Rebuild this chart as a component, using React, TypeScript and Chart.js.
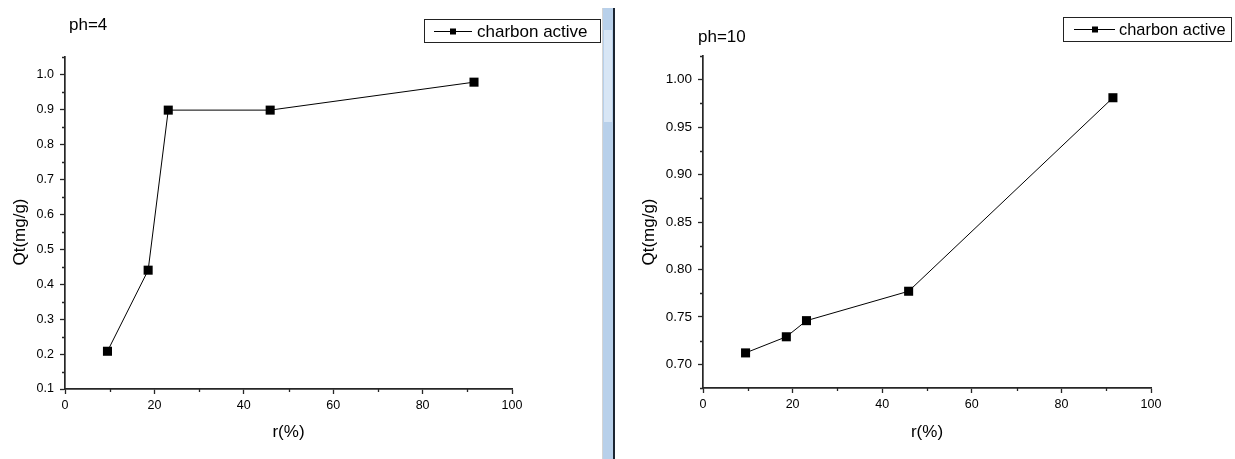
import React, { useEffect, useRef } from 'react';
import { Chart, registerables } from 'chart.js';

Chart.register(...registerables);

// ---------- data ----------
const rPercent = [9.5, 18.6, 23.1, 45.9, 91.5];
const qtPh4 = [0.208, 0.44, 0.898, 0.898, 0.978];
const qtPh10 = [0.712, 0.729, 0.746, 0.777, 0.981];

const xTicks = [0, 20, 40, 60, 80, 100];
const xTickLabels = ['0', '20', '40', '60', '80', '100'];
const xMinorTicks = [10, 30, 50, 70, 90];

const yTicksPh4 = [0.1, 0.2, 0.3, 0.4, 0.5, 0.6, 0.7, 0.8, 0.9, 1.0];
const yTickLabelsPh4 = ['0.1', '0.2', '0.3', '0.4', '0.5', '0.6', '0.7', '0.8', '0.9', '1.0'];
const yMinorPh4 = [0.15, 0.25, 0.35, 0.45, 0.55, 0.65, 0.75, 0.85, 0.95, 1.05];

const yTicksPh10 = [0.7, 0.75, 0.8, 0.85, 0.9, 0.95, 1.0];
const yTickLabelsPh10 = ['0.70', '0.75', '0.80', '0.85', '0.90', '0.95', '1.00'];
const yMinorPh10 = [0.675, 0.725, 0.775, 0.825, 0.875, 0.925, 0.975, 1.025];

const seriesLabel = 'charbon active';
const titlePh4 = 'ph=4';
const titlePh10 = 'ph=10';
const xTitle = 'r(%)';
const yTitle = 'Qt(mg/g)';

// ---------- styles ----------
const FONT = '"Liberation Sans", Arial, Helvetica, sans-serif';
const TEXT = '#000000';
const AXIS = '#262626';

const decorPlugin = {
  id: 'decor',
  afterDraw(chart: any, _args: any, o: any) {
    const ctx = chart.ctx;
    const xs = chart.scales.x;
    const ys = chart.scales.y;
    ctx.save();
    // minor ticks
    ctx.strokeStyle = AXIS;
    ctx.lineWidth = 1.3;
    ctx.beginPath();
    o.xMinor.forEach((v: number) => {
      const px = Math.round(xs.getPixelForValue(v)) + 0.5;
      ctx.moveTo(px, xs.top);
      ctx.lineTo(px, xs.top + 3);
    });
    o.yMinor.forEach((v: number) => {
      const py = Math.round(ys.getPixelForValue(v)) + 0.5;
      ctx.moveTo(ys.right - 3, py);
      ctx.lineTo(ys.right, py);
    });
    ctx.stroke();

    // chart title
    ctx.fillStyle = TEXT;
    ctx.textAlign = 'left';
    ctx.textBaseline = 'alphabetic';
    ctx.font = `${o.titleSize}px ${FONT}`;
    ctx.fillText(o.title, o.titleX, o.titleY);

    // y axis title
    ctx.save();
    ctx.translate(o.yTitleX, o.yTitleY);
    ctx.rotate(-Math.PI / 2);
    ctx.textAlign = 'center';
    ctx.textBaseline = 'middle';
    ctx.font = `17px ${FONT}`;
    ctx.fillText(o.yTitle, 0, 0);
    ctx.restore();

    // legend box
    const L = o.legend;
    ctx.strokeStyle = '#222';
    ctx.lineWidth = 1;
    ctx.strokeRect(L.x + 0.5, L.y + 0.5, L.w, L.h);
    const my = Math.round(L.y + L.h / 2) + 0.5;
    ctx.strokeStyle = '#000';
    ctx.beginPath();
    ctx.moveTo(L.lineX1, my);
    ctx.lineTo(L.lineX2, my);
    ctx.stroke();
    ctx.fillStyle = '#000';
    ctx.fillRect(L.markX - L.mark / 2, my - L.mark / 2, L.mark, L.mark);
    ctx.fillStyle = TEXT;
    ctx.font = `${L.fontSize}px ${FONT}`;
    ctx.fillText(chart.data.datasets[0].label, L.textX, L.textY);
    ctx.restore();
  },
};

function makeConfig(p: any): any {
  return {
    type: 'line',
    data: {
      datasets: [
        {
          label: seriesLabel,
          data: rPercent.map((r, i) => ({ x: r, y: p.values[i] })),
          borderColor: '#000',
          borderWidth: 1,
          pointStyle: 'rect',
          pointRadius: 6.4,
          pointBackgroundColor: '#000',
          pointBorderColor: '#000',
          pointBorderWidth: 0,
          tension: 0,
          fill: false,
        },
      ],
    },
    options: {
      responsive: false,
      animation: false,
      events: [],
      layout: { padding: p.padding },
      plugins: {
        legend: { display: false },
        title: { display: false },
        tooltip: { enabled: false },
        decor: p.decor,
      },
      scales: {
        x: {
          type: 'linear',
          min: 0,
          max: 100,
          afterBuildTicks: (s: any) => {
            s.ticks = xTicks.map((v) => ({ value: v }));
          },
          afterFit: (s: any) => {
            s.height = p.xHeight;
          },
          ticks: {
            autoSkip: false,
            maxRotation: 0,
            padding: 4,
            color: TEXT,
            font: { family: FONT, size: 12.5 },
            callback: (_v: any, i: number) => xTickLabels[i],
          },
          grid: {
            display: true,
            drawOnChartArea: false,
            drawTicks: true,
            tickLength: 5,
            tickColor: AXIS,
            tickWidth: 1.3,
          },
          border: { display: true, color: AXIS, width: 1.7 },
          title: {
            display: true,
            text: xTitle,
            color: TEXT,
            font: { family: FONT, size: 17 },
            padding: { top: 0, bottom: 16 },
          },
        },
        y: {
          type: 'linear',
          min: p.yMin,
          max: p.yMax,
          afterBuildTicks: (s: any) => {
            s.ticks = p.yTicks.map((v: number) => ({ value: v }));
          },
          afterFit: (s: any) => {
            s.width = p.yWidth;
          },
          ticks: {
            autoSkip: false,
            padding: 6,
            color: TEXT,
            font: { family: FONT, size: p.yTickSize },
            callback: (_v: any, i: number) => p.yTickLabels[i],
          },
          grid: {
            display: true,
            drawOnChartArea: false,
            drawTicks: true,
            tickLength: 5,
            tickColor: AXIS,
            tickWidth: 1.3,
          },
          border: { display: true, color: AXIS, width: 1.7 },
          title: { display: false },
        },
      },
    },
    plugins: [decorPlugin],
  };
}

function OriginChart(props: { cfg: any; left: number; width: number }) {
  const ref = useRef<HTMLCanvasElement | null>(null);
  useEffect(() => {
    if (!ref.current) return;
    const chart = new Chart(ref.current, makeConfig(props.cfg));
    return () => chart.destroy();
  }, []);
  return (
    <canvas
      ref={ref}
      width={props.width}
      height={459}
      style={{ position: 'absolute', left: props.left, top: 0, width: props.width, height: 459 }}
    />
  );
}

const leftCfg = {
  values: qtPh4,
  yMin: 0.1,
  yMax: 1.05,
  yTicks: yTicksPh4,
  yTickLabels: yTickLabelsPh4,
  yTickSize: 12.5,
  padding: { left: 0, top: 57, right: 91, bottom: 0 },
  yWidth: 65,
  xHeight: 70,
  decor: {
    xMinor: xMinorTicks,
    yMinor: yMinorPh4,
    title: titlePh4,
    titleSize: 17,
    titleX: 69,
    titleY: 30,
    yTitle: yTitle,
    yTitleX: 20,
    yTitleY: 232,
    legend: {
      x: 424, y: 19, w: 176, h: 23,
      lineX1: 434, lineX2: 472, markX: 453, mark: 6,
      textX: 477, textY: 37, fontSize: 17,
    },
  },
};

const rightCfg = {
  values: qtPh10,
  yMin: 0.675,
  yMax: 1.025,
  yTicks: yTicksPh10,
  yTickLabels: yTickLabelsPh10,
  yTickSize: 13.5,
  padding: { left: 0, top: 56, right: 84, bottom: 0 },
  yWidth: 88,
  xHeight: 71,
  decor: {
    xMinor: xMinorTicks,
    yMinor: yMinorPh10,
    title: titlePh10,
    titleSize: 17,
    titleX: 83,
    titleY: 42,
    yTitle: yTitle,
    yTitleX: 34,
    yTitleY: 232,
    legend: {
      x: 448, y: 17, w: 168, h: 24,
      lineX1: 459, lineX2: 500, markX: 480, mark: 6,
      textX: 504, textY: 35, fontSize: 16.4,
    },
  },
};

export default function App() {
  return (
    <div style={{ position: 'absolute', left: 0, top: 0, width: 1235, height: 459, background: '#fff', overflow: 'hidden' }}>
      <OriginChart cfg={leftCfg} left={0} width={603} />
      <div style={{ position: 'absolute', left: 602, top: 8, width: 1, height: 451, background: '#d4d4d4' }} />
      <div style={{ position: 'absolute', left: 603, top: 8, width: 10, height: 451, background: '#b8d0ea' }} />
      <div style={{ position: 'absolute', left: 604, top: 30, width: 8, height: 92, background: '#d8e6f5' }} />
      <div style={{ position: 'absolute', left: 613, top: 8, width: 2, height: 451, background: '#1c2531' }} />
      <OriginChart cfg={rightCfg} left={615} width={620} />
    </div>
  );
}
